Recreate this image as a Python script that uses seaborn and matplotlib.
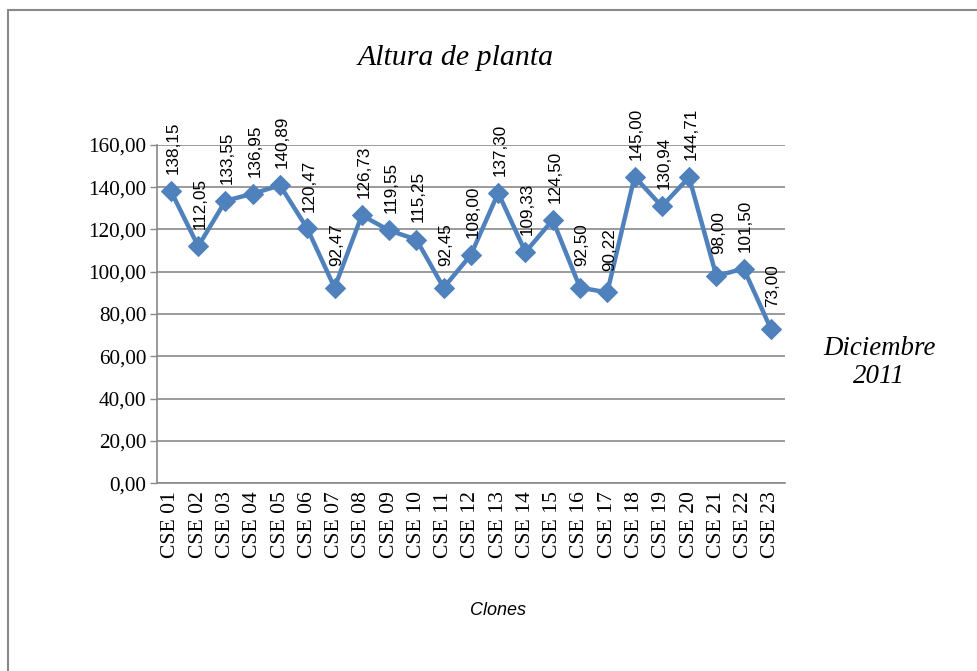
import matplotlib
matplotlib.use('Agg')
import matplotlib.pyplot as plt
import pandas as pd
import seaborn as sns
from matplotlib.patches import Rectangle

sns.set_style('white')
plt.rcParams['font.family'] = ['Liberation Serif', 'DejaVu Serif']
plt.rcParams['text.color'] = 'black'
plt.rcParams['xtick.color'] = 'black'
plt.rcParams['ytick.color'] = 'black'

# datos
clones = ['CSE 01', 'CSE 02', 'CSE 03', 'CSE 04', 'CSE 05', 'CSE 06', 'CSE 07',
          'CSE 08', 'CSE 09', 'CSE 10', 'CSE 11', 'CSE 12', 'CSE 13', 'CSE 14',
          'CSE 15', 'CSE 16', 'CSE 17', 'CSE 18', 'CSE 19', 'CSE 20', 'CSE 21',
          'CSE 22', 'CSE 23']
altura = [138.15, 112.05, 133.55, 136.95, 140.89, 120.47, 92.47, 126.73, 119.55,
          115.25, 92.45, 108.00, 137.30, 109.33, 124.50, 92.50, 90.22, 145.00,
          130.94, 144.71, 98.00, 101.50, 73.00]
y_ticks = [0, 20, 40, 60, 80, 100, 120, 140, 160]

df = pd.DataFrame({'Clones': clones, 'Altura': altura})
azul = '#4F81BD'
gris = '#898989'

fig = plt.figure(figsize=(9.77, 6.71), dpi=100)
ax = fig.add_axes([0.161, 0.280, 0.642, 0.504])

sns.lineplot(data=df, x='Clones', y='Altura', ax=ax, color=azul, linewidth=3.2,
             marker='D', markersize=10, markeredgecolor=azul, sort=False)

# etiquetas de datos, giradas
for i, v in enumerate(altura):
    ax.annotate(f'{v:.2f}'.replace('.', ','), (i, v), xytext=(1.5, 31),
                textcoords='offset points', rotation=90, ha='center', va='center',
                fontsize=12.3, color='black', family=['Liberation Sans', 'DejaVu Sans'])

ax.set_xlim(-0.5, len(clones) - 0.5)
ax.set_ylim(0, 160)
ax.set_yticks(y_ticks)
ax.set_yticklabels([f'{t:.2f}'.replace('.', ',') for t in y_ticks], fontsize=15.3)
ax.set_xticks(range(len(clones)))
ax.set_xticklabels(clones, rotation=90, fontsize=15.6)
ax.set_xticks([i - 0.5 for i in range(len(clones) + 1)], minor=True)
ax.tick_params(axis='x', which='major', length=0, pad=6)
ax.tick_params(axis='x', which='minor', length=5, color=gris, width=1, direction='out')
ax.tick_params(axis='y', length=5, color=gris, width=1, direction='out', left=True, pad=3)
ax.yaxis.grid(True, color=gris, linewidth=1.2)
ax.set_axisbelow(True)
for s in ['top', 'right']:
    ax.spines[s].set_visible(False)
for s in ['left', 'bottom']:
    ax.spines[s].set_color(gris)
    ax.spines[s].set_linewidth(1.2)
ax.set_xlabel('')
ax.set_ylabel('')

fig.text(0.466, 0.913, 'Altura de planta', ha='center', va='center',
         fontsize=21.5, style='italic')
fig.text(0.9, 0.46, 'Diciembre\n2011', ha='center', va='center',
         fontsize=19.4, style='italic', linespacing=1.15)
fig.text(0.51, 0.09, 'Clones', ha='center', va='center', fontsize=13,
         style='italic', family=['Liberation Sans', 'DejaVu Sans'])

# marco
fig.patches.append(Rectangle((8 / 977, -0.1), 1.2, 1.1 - 10 / 671,
                             transform=fig.transFigure, fill=False,
                             edgecolor=gris, linewidth=1.5))

fig.savefig('out.png', dpi=100)
